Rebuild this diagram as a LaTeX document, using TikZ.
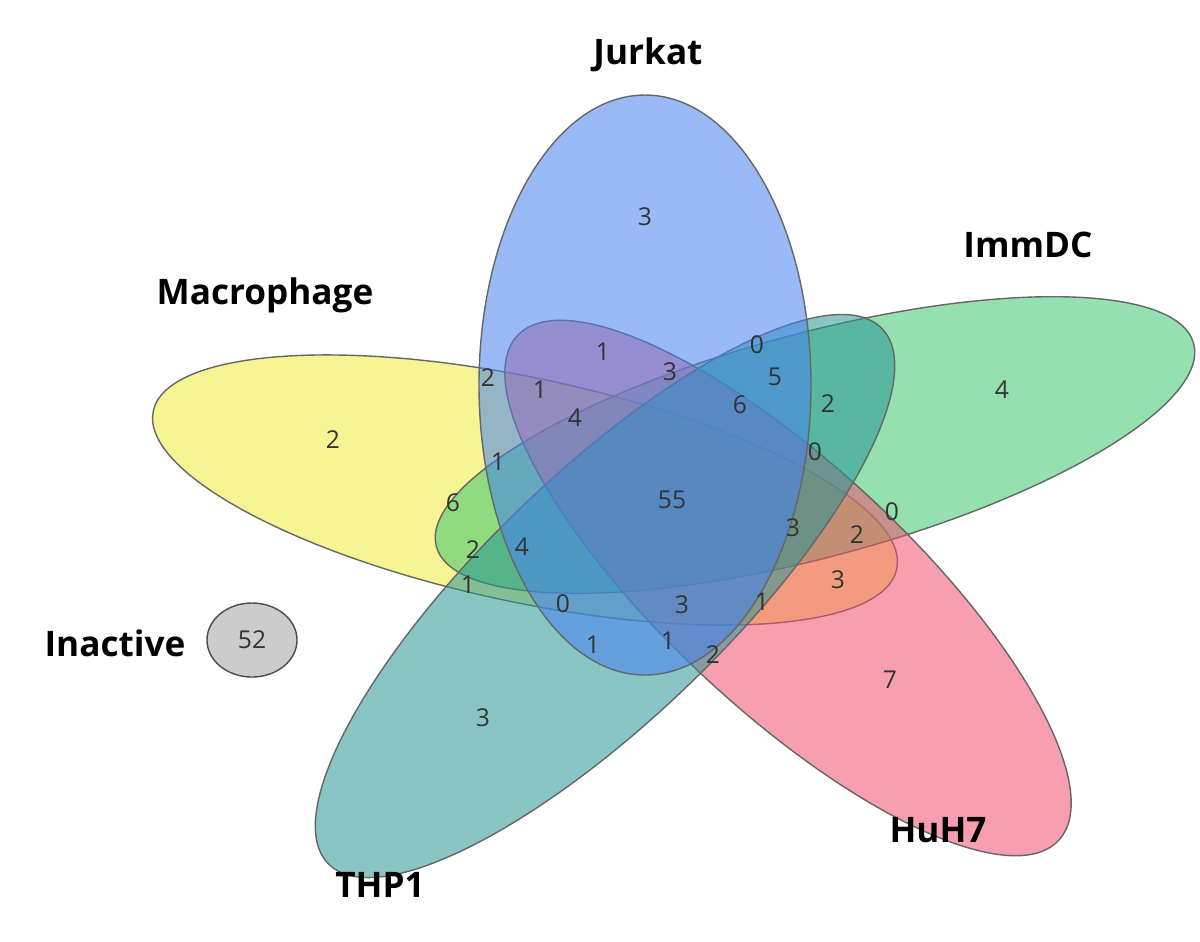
\documentclass[tikz,border=0pt]{standalone}
\usepackage{fontspec}
\setmainfont{Open Sans}
\usetikzlibrary{shapes.geometric}
\tikzset{
  petal/.style={draw=black!60, line width=0.4pt, fill opacity=0.55},
  setname/.style={font=\bfseries\fontsize{10}{12}\selectfont},
  cnt/.style={font=\fontsize{7}{8}\selectfont, text=black!80}
}
\begin{document}
\begin{tikzpicture}[x=0.01cm,y=-0.01cm]
			\useasboundingbox (0,0) rectangle (1200,941);
			% petals
			\draw[petal, fill={rgb,255:red,240;green,235;blue,60}] (525,490) ellipse [x radius=380, y radius=112, rotate=-12];
			\draw[petal, fill={rgb,255:red,60;green,200;blue,110}] (815,445) ellipse [x radius=392, y radius=112, rotate=15];
			\draw[petal, fill={rgb,255:red,240;green,80;blue,110}] (788,588) ellipse [x radius=370, y radius=122, rotate=-43];
			\draw[petal, fill={rgb,255:red,40;green,150;blue,150}] (605,596) ellipse [x radius=385, y radius=122, rotate=44];
			\draw[petal, fill={rgb,255:red,70;green,130;blue,240}] (645,385) ellipse [x radius=166, y radius=290];
			\node[draw=black!70, fill=black!20, ellipse, minimum width=0.9cm, minimum height=0.74cm, inner sep=0] (inactive) at (252,640) {};
			
			% set names
			\node[setname] (jurkat) at (648,55) {Jurkat};
			\node[setname] (immdc) at (1028,245) {ImmDC};
			\node[setname] (macro) at (265,295) {Macrophage};
			\node[setname] (inact) at (115,643) {Inactive};
			\node[setname] (thp) at (380,885) {THP1};
			\node[setname] (huh) at (938,830) {HuH7};
			
			% counts
			\foreach \x/\y/\n in {645/217/3, 1002/390/4, 333/440/2, 890/680/7, 483/718/3, 252/640/52,
			  603/352/1, 757/345/0, 488/378/2, 540/390/1, 670/372/3, 775/377/5, 575/418/4, 740/405/6, 828/404/2,
			  498/462/1, 815/452/0, 672/500/55, 453/503/6, 892/512/0, 793/528/3, 857/535/2, 473/550/2, 522/547/4,
			  838/580/3, 468/585/1, 563/604/0, 682/605/3, 762/602/1, 593/645/1, 668/641/1, 713/655/2}
			  \node[cnt] at (\x,\y) {\n};
		\end{tikzpicture}
\end{document}
